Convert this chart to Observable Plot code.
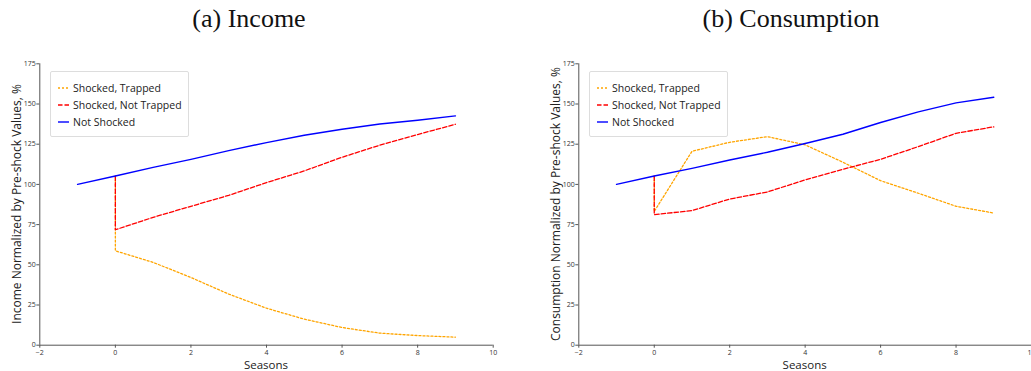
<!DOCTYPE html>
<html><head><meta charset="utf-8">
<script src="https://cdn.jsdelivr.net/npm/d3@7"></script>
<script src="https://cdn.jsdelivr.net/npm/@observablehq/plot@0.6"></script>
<style>
body{margin:0;width:1031px;height:371px;overflow:hidden;background:#fff;position:relative;font-family:"Open Sans",sans-serif;color:#222}
.title{position:absolute;top:4px;font-family:"Liberation Serif",serif;font-size:26px;transform:translateX(-50%);white-space:nowrap;color:#111}
.plot{position:absolute;top:50px}
.ylab{position:absolute;font-size:12px;white-space:nowrap;transform:translate(-50%,-50%) rotate(-90deg);color:#222}
.xlab{position:absolute;font-size:11.5px;line-height:11px;white-space:nowrap;transform:translate(-50%,-50%);color:#222}
.legend{position:absolute;border:1px solid #ddd;border-radius:2px;background:#fff;box-sizing:border-box;font-size:10.5px}
.legend .item{position:absolute;left:7px;height:14px;display:flex;align-items:center;white-space:nowrap}
.legend svg{margin-right:4px}
</style></head><body>
<script>
// ---- data ----
const seriesNames = ["Shocked, Trapped", "Shocked, Not Trapped", "Not Shocked"];
const seasonsNotShocked = [-1, 0, 1, 2, 3, 4, 5, 6, 7, 8, 9];
const seasonsShocked = [0, 0, 1, 2, 3, 4, 5, 6, 7, 8, 9];
const incomeNotShocked = [100, 105.2, 110.6, 115.6, 121, 126, 130.6, 134.3, 137.6, 139.9, 142.6];
const incomeNotTrapped = [105.2, 71.8, 79.5, 86.4, 93.2, 101.1, 108.4, 116.9, 124.4, 131, 137.4];
const incomeTrapped = [105.2, 58.7, 51.5, 42.1, 31.8, 23, 16.2, 11, 7.5, 6, 5];
const consNotShocked = [100, 105.2, 110, 115.2, 120, 125.4, 131.2, 138.5, 145.1, 150.7, 154.2];
const consNotTrapped = [105.2, 81.2, 83.7, 90.9, 95.3, 102.8, 109.4, 115.6, 123.5, 131.8, 135.8];
const consTrapped = [105.2, 83.2, 120.6, 126.2, 129.7, 124.6, 113.8, 102.3, 94.5, 86.4, 82.2];
const xTicks = [-2, 0, 2, 4, 6, 8, 10];
const yTicks = [0, 25, 50, 75, 100, 125, 150, 175];
const titles = ["(a) Income", "(b) Consumption"];
const yLabels = ["Income Normalized by Pre-shock Values, %", "Consumption Normalized by Pre-shock Values, %"];
const xLabel = "Seasons";

// ---- styles ----
const styles = [
  {stroke: "orange", dash: "2,2", width: 1.3},
  {stroke: "red", dash: "4.5,2", width: 1.3},
  {stroke: "blue", dash: null, width: 1.4}
];

function toRows(xs, ys) { return xs.map((x, i) => ({x, y: ys[i]})); }

function panel(series, opt) {
  const marks = [
    Plot.ruleY([0], {x1: -2, x2: 10, stroke: "#555", strokeWidth: 1}),
    Plot.ruleX([-2], {y1: 0, y2: 175, stroke: "#555", strokeWidth: 1}),
    Plot.axisX({ticks: xTicks, tickSize: 3, tickPadding: 1.5, label: null, stroke: "#555"}),
    Plot.axisY({ticks: yTicks, tickSize: 3, tickPadding: 1, label: null, stroke: "#555"})
  ];
  series.forEach((s, i) => {
    marks.push(Plot.line(s, {x: "x", y: "y", stroke: styles[i].stroke, strokeWidth: styles[i].width,
      strokeDasharray: styles[i].dash || undefined}));
  });
  return Plot.plot({
    width: opt.width, height: 321,
    marginLeft: opt.ml, marginRight: opt.mr, marginTop: 13.3, marginBottom: 26.3,
    x: {domain: [-2, 10]}, y: {domain: [0, 175]},
    style: {fontSize: "7px", fontFamily: "'Open Sans', sans-serif", color: "#333", overflow: "visible"},
    marks
  });
}

const panels = [
  {series: [toRows(seasonsShocked, incomeTrapped), toRows(seasonsShocked, incomeNotTrapped), toRows(seasonsNotShocked, incomeNotShocked)],
   left: 0, width: 520, ml: 39.3, mr: 27.3, titleX: 249, ylabX: 16, legendX: 50},
  {series: [toRows(seasonsShocked, consTrapped), toRows(seasonsShocked, consNotTrapped), toRows(seasonsNotShocked, consNotShocked)],
   left: 520, width: 530, ml: 58.3, mr: 19, titleX: 791, ylabX: 555, legendX: 589}
];

panels.forEach((p, k) => {
  const svg = panel(p.series, p);
  svg.classList.add("plot");
  svg.style.left = p.left + "px";
  document.body.appendChild(svg);

  const t = document.createElement("div");
  t.className = "title"; t.textContent = titles[k]; t.style.left = p.titleX + "px";
  document.body.appendChild(t);

  const yl = document.createElement("div");
  yl.className = "ylab"; yl.textContent = yLabels[k];
  yl.style.left = p.ylabX + "px"; yl.style.top = "204px";
  document.body.appendChild(yl);

  const xl = document.createElement("div");
  xl.className = "xlab"; xl.textContent = xLabel;
  xl.style.left = (p.left + p.ml + (p.width - p.ml - p.mr) / 2) + "px"; xl.style.top = "363.8px";
  document.body.appendChild(xl);

  const lg = document.createElement("div");
  lg.className = "legend";
  lg.style.left = p.legendX + "px"; lg.style.top = "70.5px";
  lg.style.width = "139px"; lg.style.height = "66px";
  seriesNames.forEach((name, i) => {
    const it = document.createElement("div");
    it.className = "item";
    it.style.top = (9 + i * 17.3) + "px";
    it.innerHTML = `<svg width="11" height="4"><line x1="0" x2="11" y1="2" y2="2" stroke="${styles[i].stroke}" stroke-width="${styles[i].width}" ${styles[i].dash ? `stroke-dasharray="${styles[i].dash}"` : ""}/></svg><span>${name}</span>`;
    lg.appendChild(it);
  });
  document.body.appendChild(lg);
});
</script>
</body></html>
